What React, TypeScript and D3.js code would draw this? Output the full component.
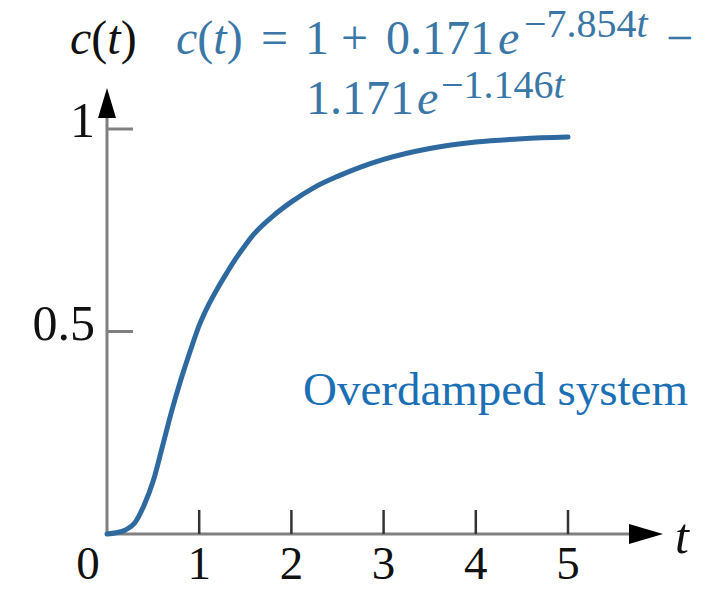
import React from "react";
import * as d3 from "d3";

// Step response samples of the overdamped system
const tValues = [0, 0.1, 0.2, 0.3, 0.4, 0.5, 0.6, 0.7, 0.8, 0.9, 1.0, 1.1, 1.2, 1.3, 1.4, 1.5, 1.6, 1.8, 2.0, 2.25, 2.5, 2.75, 3.0, 3.5, 4.0, 4.5, 5.0];
const cValues = [0, 0.003, 0.01, 0.027, 0.07, 0.13, 0.215, 0.302, 0.38, 0.45, 0.515, 0.565, 0.607, 0.645, 0.681, 0.713, 0.742, 0.785, 0.82, 0.856, 0.883, 0.906, 0.925, 0.952, 0.968, 0.976, 0.98];

const xTickValues = [1, 2, 3, 4, 5];
const xTickLabels = ["0", "1", "2", "3", "4", "5"];
const yTickValues = [0.5, 1];
const yTickLabels = ["0.5", "1"];

const W = 719;
const H = 591;
const SERIF = "'Liberation Serif', 'Times New Roman', serif";
const AXIS = "#808080";
const CURVE = "#2e6aa0";
const FORMULA = "#3b77a6";
const NOTE = "#1a6fb5";

export default function App() {
  const x = d3.scaleLinear().domain([0, 5]).range([107, 568]);
  const y = d3.scaleLinear().domain([0, 1]).range([534, 129]);

  const points: [number, number][] = tValues.map((t, i) => [t, cValues[i]]);
  const line = d3
    .line<[number, number]>()
    .x((d) => x(d[0]))
    .y((d) => y(d[1]))
    .curve(d3.curveMonotoneX);

  const x0 = x(0);
  const y0 = y(0);
  const xAxisEnd = 629;
  const yAxisEnd = 118;

  return (
    <svg
      width={W}
      height={H}
      viewBox={`0 0 ${W} ${H}`}
      style={{ position: "absolute", left: 0, top: 0, background: "#fff" }}
      fontFamily={SERIF}
    >
      <rect width={W} height={H} fill="#fff" />

      {/* axes */}
      <line x1={x0} y1={y0} x2={xAxisEnd} y2={y0} stroke={AXIS} strokeWidth={3} />
      <path d={`M${xAxisEnd},${y0 - 10} L${xAxisEnd + 34},${y0} L${xAxisEnd},${y0 + 10} Z`} fill="#000" />
      <line x1={x0} y1={y0 + 1.5} x2={x0} y2={yAxisEnd} stroke={AXIS} strokeWidth={3} />
      <path d={`M${x0 - 9},${yAxisEnd} L${x0},${yAxisEnd - 30} L${x0 + 9},${yAxisEnd} Z`} fill="#000" />

      {/* x ticks */}
      {xTickValues.map((v) => (
        <line key={`xt${v}`} x1={x(v)} y1={y0} x2={x(v)} y2={y0 - 24} stroke="#333" strokeWidth={2.5} />
      ))}
      {xTickLabels.map((lab, i) => (
        <text
          key={`xl${i}`}
          x={i === 0 ? x0 - 19 : x(i)}
          y={579}
          fontSize={47}
          textAnchor="middle"
          fill="#111"
        >
          {lab}
        </text>
      ))}
      <text x={675} y={553} fontSize={50} fontStyle="italic" fill="#111">
        t
      </text>

      {/* y ticks */}
      {yTickValues.map((v, i) => (
        <g key={`yt${v}`}>
          <line x1={x0} y1={y(v)} x2={x0 + 26} y2={y(v)} stroke={AXIS} strokeWidth={3} />
          <text x={95} y={y(v) + 8} fontSize={50} textAnchor="end" fill="#111">
            {yTickLabels[i]}
          </text>
        </g>
      ))}

      {/* y label */}
      <text x={70} y={54} fontSize={48} fill="#111">
        <tspan fontStyle="italic">c</tspan>(<tspan fontStyle="italic">t</tspan>)
      </text>

      {/* response curve */}
      <path d={line(points) ?? ""} fill="none" stroke={CURVE} strokeWidth={5} strokeLinecap="round" strokeLinejoin="round" />

      {/* formula */}
      <g fill={FORMULA}>
        <text x={176} y={54} fontSize={48}>
          <tspan fontStyle="italic">c</tspan>(<tspan fontStyle="italic">t</tspan>)
        </text>
        <text x={261} y={54} fontSize={48}>=</text>
        <text x={305} y={54} fontSize={48}>1</text>
        <text x={341} y={54} fontSize={48}>+</text>
        <text x={386} y={54} fontSize={48}>0.171</text>
        <text x={498} y={54} fontSize={48} fontStyle="italic">e</text>
        <text x={524} y={37} fontSize={40}>
          −7.854<tspan fontStyle="italic">t</tspan>
        </text>
        <text x={666} y={54} fontSize={48}>−</text>

        <text x={306} y={114} fontSize={48}>1.171</text>
        <text x={417} y={114} fontSize={48} fontStyle="italic">e</text>
        <text x={441} y={98} fontSize={40}>
          −1.146<tspan fontStyle="italic">t</tspan>
        </text>
      </g>

      {/* annotation */}
      <text x={303} y={405} fontSize={47} fill={NOTE}>
        Overdamped system
      </text>
    </svg>
  );
}
